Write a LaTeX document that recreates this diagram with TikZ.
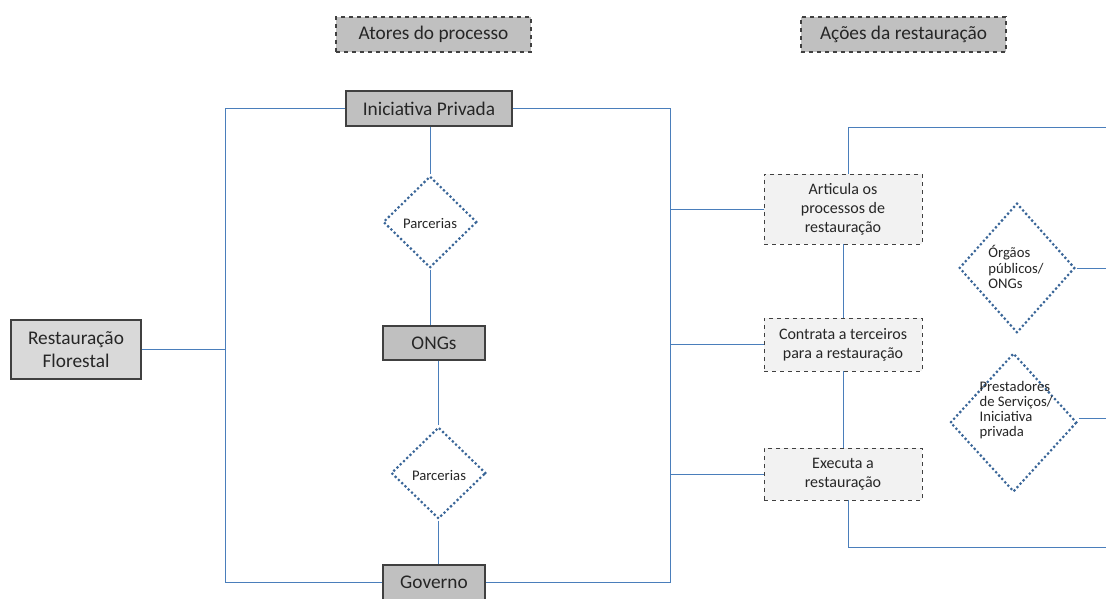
\documentclass[tikz,border=0pt]{standalone}
\usepackage{fontspec}
\setmainfont{Carlito}
\usetikzlibrary{shapes.geometric}
\definecolor{linkblue}{HTML}{4A7EBB}
\definecolor{dotblue}{HTML}{3A6698}
\definecolor{txt}{HTML}{262626}
\definecolor{boxgray}{HTML}{C0C0C0}
\definecolor{lightgray}{HTML}{D9D9D9}
\definecolor{palegray}{HTML}{F2F2F2}
\definecolor{edge}{HTML}{404040}
\tikzset{
  titlebox/.style={draw=edge, dashed, line width=0.8pt, fill=boxgray, text=txt, font=\fontsize{14.5}{17}\selectfont, inner sep=0pt},
  actor/.style={draw=edge, line width=0.8pt, fill=boxgray, text=txt, font=\fontsize{14.5}{17}\selectfont, inner sep=0pt},
  rootbox/.style={draw=edge, line width=0.8pt, fill=lightgray, text=txt, font=\fontsize{14.5}{17.3}\selectfont, inner sep=0pt, align=center},
  action/.style={draw=edge, dashed, line width=0.7pt, fill=palegray, text=txt, font=\fontsize{12}{14.3}\selectfont, inner sep=0pt, align=center},
  dia/.style={shape=diamond, draw=dotblue, line width=2.3pt, dash pattern=on 0pt off 3.4pt, line cap=round, inner sep=0pt},
  diatext/.style={text=txt, font=\fontsize{11}{11.4}\selectfont, align=left, inner sep=0pt},
  link/.style={draw=linkblue, line width=0.75pt}
}
\begin{document}
\begin{tikzpicture}[x=0.75pt, y=-0.75pt]
\useasboundingbox (0,0) rectangle (1106,599);
% titles
\node[titlebox, minimum width=146.25pt, minimum height=26.25pt] (t1) at (433.5,34.5) {Atores do processo};
\node[titlebox, minimum width=153.75pt, minimum height=26.25pt] (t2) at (903.5,34.5) {Ações da restauração};
% actors
\node[rootbox, minimum width=97.5pt, minimum height=44.25pt] (rf) at (76,349.5) {Restauração\\Florestal};
\node[actor, minimum width=124.5pt, minimum height=26.25pt] (ip) at (429,108.5) {Iniciativa Privada};
\node[actor, minimum width=76.5pt, minimum height=25.5pt] (ongs) at (434,343) {ONGs};
\node[actor, minimum width=76.5pt, minimum height=26.25pt] (gov) at (434,582.5) {Governo};
\node[dia, minimum width=70.5pt, minimum height=69pt] (d1) at (430,222) {};
\node[diatext] (d1t) at (430,224) {Parcerias};
\node[dia, minimum width=71.25pt, minimum height=69pt] (d2) at (438.5,473) {};
\node[diatext] (d2t) at (439,476) {Parcerias};
% actions
\node[action, minimum width=118.5pt, minimum height=52.5pt] (art) at (843,209) {Articula os\\processos de\\restauração};
\node[action, minimum width=118.5pt, minimum height=39.75pt] (con) at (843,344.5) {Contrata a terceiros\\para a restauração};
\node[action, minimum width=118.5pt, minimum height=39pt] (exe) at (843,474) {Executa a\\restauração};
\node[dia, minimum width=87pt, minimum height=97.5pt] (d3) at (1017,268) {};
\node[diatext] (d3t) at (1016,267) {Órgãos\\públicos/\\ONGs};
\node[dia, minimum width=95.25pt, minimum height=104.25pt] (d4) at (1013.5,422.5) {};
\node[diatext] (d4t) at (1016,410) {Prestadores\\de Serviços/\\Iniciativa\\privada};
% coordinates
\coordinate (L1) at (225,108.5);
\coordinate (L2) at (225,582.5);
\coordinate (R1) at (670,108.5);
\coordinate (R2) at (670,582.5);
\coordinate (T) at (1106,128);
\coordinate (B) at (1106,547);
\coordinate (E) at (1106,268);
% connectors
\draw[link] (rf.east) -- (rf.east -| L1);
\draw[link] (ip.west) -- (L1) -- (L2) -- (gov.west);
\draw[link] (ip.east) -- (R1) -- (R2) -- (gov.east);
\draw[link] (d1.north |- ip.south) -- (d1.north);
\draw[link] (d1.south) -- (d1.south |- ongs.north);
\draw[link] (d2.north |- ongs.south) -- (d2.north);
\draw[link] (d2.south) -- (d2.south |- gov.north);
\draw[link] (art.west -| R1) -- (art.west);
\draw[link] (con.west -| R1) -- (con.west);
\draw[link] (exe.west -| R1) -- (exe.west);
\draw[link] ([xshift=3.75pt]art.north) |- (T);
\draw[link] (art.south) -- (con.north);
\draw[link] (con.south) -- (exe.north);
\draw[link] ([xshift=3.75pt]exe.south) |- (B);
\draw[link] (d3.east) -- (E);
\draw[link] ([yshift=3pt]d4.east) -- ([yshift=3pt]d4.east -| E);
\end{tikzpicture}
\end{document}
